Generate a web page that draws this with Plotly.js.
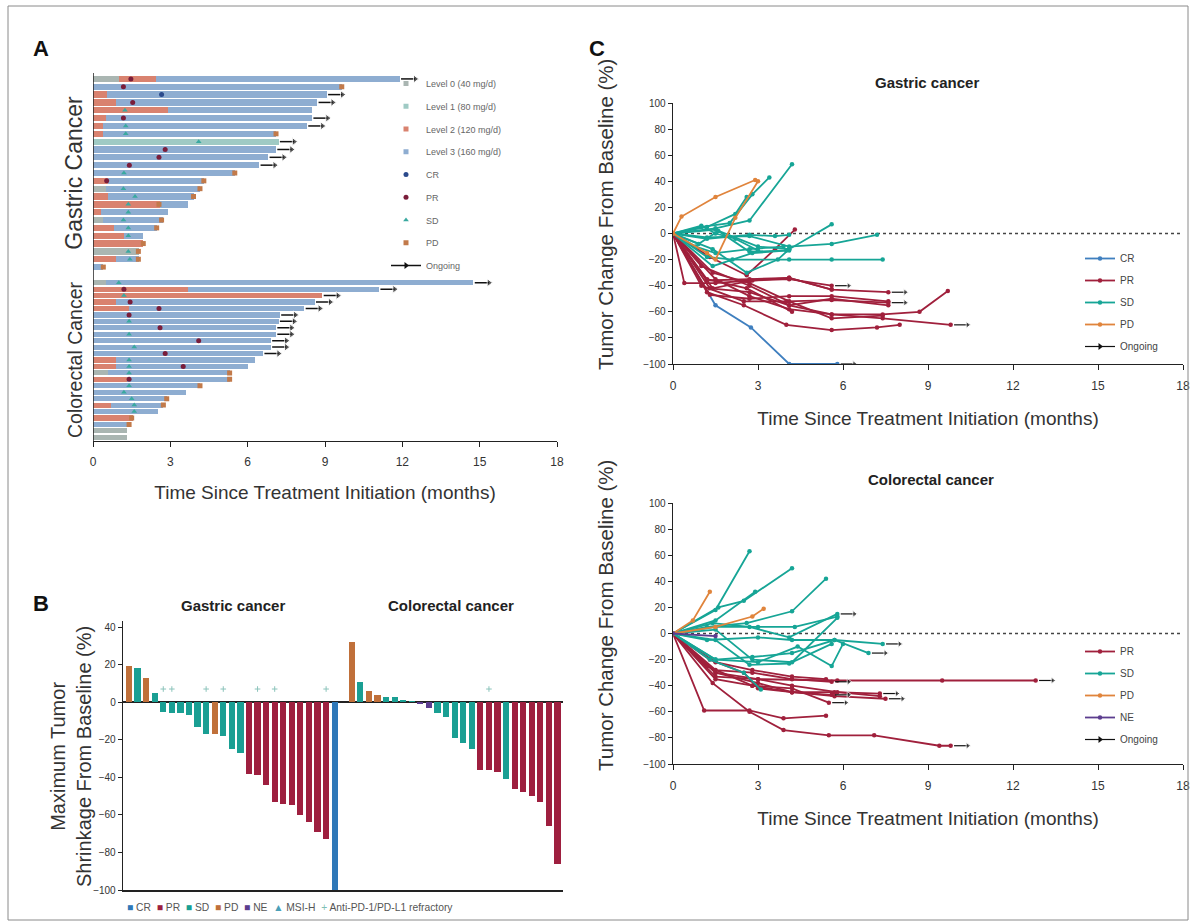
<!DOCTYPE html>
<html><head><meta charset="utf-8">
<script src="https://cdn.plot.ly/plotly-3.0.1.min.js"></script>
<style>html,body{margin:0;padding:0;background:#fff}#chart{width:1191px;height:924px}</style>
</head><body><div id="chart"></div><script>
// ================= DATA =================
// ---- Panel A : swimmer plot (months) ----
const doseLevels = ['Level 0 (40 mg/d)', 'Level 1 (80 mg/d)', 'Level 2 (120 mg/d)', 'Level 3 (160 mg/d)'];
const gastricEnd = [11.9, 9.65, 9.07, 8.7, 8.5, 8.5, 8.3, 7.1, 7.2, 7.1, 6.8, 6.45, 5.5, 4.3, 4.15, 3.9, 3.7, 2.9, 2.7, 2.5, 1.95, 1.95, 1.8, 1.8, 0.4];
const gastricL0 = [1.0, 0, 0, 0, 0, 0, 0, 0, 0, 0, 0, 0, 0, 0, 0.5, 0, 0, 0, 0.4, 0, 0, 0, 1.8, 0, 0];
const gastricL1 = [0, 0, 0, 0, 0, 0, 0, 0, 7.2, 0, 0, 0, 0, 0, 0, 0, 0, 0, 0, 0, 0, 0, 0, 0, 0];
const gastricL2 = [1.45, 0, 0.55, 0.9, 2.9, 0.5, 0.4, 0.4, 0, 0, 0, 0, 0, 0.6, 0, 0.6, 2.6, 0.3, 0, 0.8, 1.2, 1.95, 0, 0.9, 0];
const gastricOngoing = [0, 2, 3, 5, 6, 8, 9, 10, 11];
const gastricMarkRow = [0, 1, 1, 2, 3, 4, 5, 6, 7, 7, 8, 9, 10, 11, 12, 12, 13, 13, 14, 14, 15, 15, 16, 16, 17, 18, 18, 19, 19, 20, 21, 22, 22, 23, 23, 24];
const gastricMarkT = [1.47, 1.18, 9.65, 2.66, 1.54, 1.24, 1.18, 1.27, 1.27, 7.1, 4.1, 2.8, 2.56, 1.41, 1.2, 5.5, 0.53, 4.3, 1.18, 4.15, 1.63, 3.9, 1.37, 2.56, 1.37, 1.18, 2.66, 1.37, 2.47, 1.37, 1.95, 1.37, 1.76, 1.43, 1.76, 0.4];
const gastricMarkType = ['PR', 'PR', 'PD', 'CR', 'PR', 'SD', 'PR', 'SD', 'SD', 'PD', 'SD', 'PR', 'PR', 'PR', 'SD', 'PD', 'PR', 'PD', 'SD', 'PD', 'SD', 'PD', 'SD', 'PD', 'SD', 'SD', 'PD', 'SD', 'PD', 'SD', 'PD', 'SD', 'PD', 'SD', 'PD', 'PD'];

const colorectalEnd = [14.76, 11.1, 8.9, 8.6, 8.2, 7.25, 7.2, 7.1, 7.1, 6.9, 6.9, 6.6, 6.3, 6.0, 5.3, 5.3, 4.15, 3.6, 2.86, 2.73, 2.54, 1.57, 1.44, 1.3, 1.3];
const colorectalL0 = [0.5, 0, 0, 0, 0, 0, 0, 0, 0, 0, 0, 0, 0, 0, 0.6, 0, 0, 0, 0, 0, 0, 0, 0, 1.3, 1.3];
const colorectalL1 = [0, 0, 0, 0, 0, 0, 0, 0, 0, 0, 0, 0, 0, 0, 0, 0, 0, 0, 0, 0, 0, 0, 0, 0, 0];
const colorectalL2 = [0, 3.7, 8.9, 0.9, 1.4, 0, 0, 0, 0, 0, 0, 0, 0.9, 0.9, 0, 1.3, 0, 0, 0, 0.7, 0, 1.57, 0, 0, 0];
const colorectalOngoing = [0, 1, 2, 3, 4, 5, 6, 7, 8, 9, 10, 11];
const colorectalMarkRow = [0, 1, 2, 3, 4, 5, 6, 7, 8, 9, 10, 11, 12, 13, 13, 14, 14, 15, 15, 16, 16, 17, 18, 18, 19, 19, 20, 21, 22];
const colorectalMarkT = [1.0, 1.2, 1.2, 1.44, 2.56, 1.4, 1.4, 2.6, 1.4, 4.1, 1.6, 2.8, 1.4, 1.4, 3.5, 1.4, 5.3, 1.4, 5.3, 1.4, 4.15, 1.2, 1.5, 2.86, 1.6, 2.73, 1.6, 1.5, 1.4];
const colorectalMarkType = ['SD', 'PR', 'SD', 'PR', 'PR', 'PR', 'SD', 'PR', 'SD', 'PR', 'SD', 'PR', 'SD', 'SD', 'PR', 'SD', 'PD', 'PR', 'PD', 'SD', 'PD', 'SD', 'SD', 'PD', 'SD', 'PD', 'SD', 'PD', 'PD'];

// ---- Panel B : waterfall (%) ----
const gastricShrink = [19, 18, 13, 5, -5, -6, -6, -7, -13, -17, -17, -18, -25, -27, -38, -39, -44, -53, -54, -55, -60, -64, -69, -73, -100];
const gastricResp = ['PD', 'SD', 'PD', 'SD', 'SD', 'SD', 'SD', 'SD', 'SD', 'SD', 'PD', 'SD', 'SD', 'SD', 'PR', 'PR', 'PR', 'PR', 'PR', 'PR', 'PR', 'PR', 'PR', 'PR', 'CR'];
const gastricRefractory = [4, 5, 9, 11, 15, 17, 23];
const colorectalShrink = [32, 11, 6, 4, 3, 2.5, 1, 0.4, -1, -3, -6, -8, -19, -22, -25, -36, -36, -37, -41, -46, -48, -50, -53, -66, -86];
const colorectalResp = ['PD', 'SD', 'PD', 'PD', 'SD', 'SD', 'SD', 'SD', 'NE', 'NE', 'SD', 'SD', 'SD', 'SD', 'SD', 'PR', 'PR', 'PR', 'SD', 'PR', 'PR', 'PR', 'PR', 'PR', 'PR'];
const colorectalRefractory = [16];

// ---- Panel C : spider plots (months, % change) ----
const gCR_t = [[0, 1.5, 2.75, 4.1, 5.8]];
const gCR_v = [[0, -55, -72, -100, -100]];
const gCR_on = [1];
const gPR_t = [[0, 0.4, 1.5, 2.7, 4.1, 5.6], [0, 1.2, 2.7, 4.1, 5.6, 7.6], [0, 1.3, 2.7, 4.1, 5.6, 7.6], [0, 1.0, 2.5, 4.0, 5.6, 7.6], [0, 1.3, 2.7, 4.1, 5.6, 7.4, 8.7, 9.7], [0, 1.5, 2.7, 4.1, 5.6, 7.4, 9.8], [0, 1.2, 2.5, 4.0, 5.6, 7.2, 8.0], [0, 1.4, 2.7, 4.1, 5.6, 7.4], [0, 1.3, 2.6, 3.6, 4.3], [0, 1.0, 2.7, 4.1, 5.6, 7.6], [0, 1.4, 2.8, 4.1, 5.6], [0, 1.2, 2.6, 4.2]];
const gPR_v = [[0, -38, -38, -36, -35, -40], [0, -36, -35, -34, -43, -45], [0, -47, -50, -48, -48, -52], [0, -40, -52, -52, -51, -53], [0, -42, -45, -55, -62, -62, -60, -44], [0, -35, -48, -58, -62, -65, -70], [0, -45, -55, -70, -74, -72, -70], [0, -30, -38, -52, -65, -63], [0, -18, -32, -12, 3], [0, -25, -40, -55, -50, -55], [0, -42, -36, -34, -43], [0, -35, -42, -60]];
const gPR_on = [1, 1, 0, 1, 0, 1, 0, 0, 0, 0, 0, 0];
const gSD_t = [[0, 1.0, 2.0, 2.8, 3.4], [0, 1.5, 2.7, 4.2], [0, 1.5, 3.0, 4.1, 5.6], [0, 1.2, 2.7, 4.1, 5.6, 7.2], [0, 1.2, 2.1, 4.1, 5.6, 7.4], [0, 1.4, 2.6, 3.7, 4.1], [0, 0.8, 1.5, 2.7, 3.9], [0, 1.2, 2.7, 3.6, 4.1], [0, 1.0, 1.5, 2.2, 3.0], [0, 1.2, 2.2, 2.6], [0, 0.9, 1.6, 2.7, 4.0], [0, 1.4, 2.8, 4.1]];
const gSD_v = [[0, 5, 8, 30, 43], [0, 4, 10, 53], [0, 3, -10, -12, 7], [0, -3, -2, -10, -8, -1], [0, -18, -20, -20, -20, -20], [0, -12, -30, -20, -12], [0, -10, -15, -12, -10], [0, -4, -1, -2, -1], [0, 6, 0, -4, -13], [0, 5, 15, 28], [0, -8, 2, -14, -13], [0, -25, -15, -13]];
const gSD_on = [0, 0, 0, 0, 0, 0, 0, 0, 0, 0, 0, 0];
const gPD_t = [[0, 0.3, 1.5, 2.9], [0, 1.2, 1.5, 2.2, 3.0]];
const gPD_v = [[0, 13, 28, 41], [0, -15, -20, 12, 40]];
const gPD_on = [0, 0];

const cPR_t = [[0, 1.1, 2.7, 3.9, 5.4], [0, 1.4, 2.7, 3.9, 5.5, 7.1, 9.4, 9.8], [0, 1.5, 3.0, 5.8, 9.5, 12.8], [0, 1.5, 3.0, 4.2, 5.7, 7.5], [0, 1.2, 2.8, 4.2, 5.7, 7.3], [0, 1.5, 3.0, 4.2, 5.8, 7.3], [0, 1.5, 2.8, 4.2, 5.6], [0, 1.5, 2.8, 4.2, 5.5], [0, 1.3, 2.5, 3.0, 4.2, 5.6], [0, 1.5, 2.8, 4.2, 5.4]];
const cPR_v = [[0, -59, -59, -65, -63], [0, -38, -60, -74, -78, -78, -86, -86], [0, -33, -35, -36, -36, -36], [0, -30, -38, -45, -48, -50], [0, -25, -40, -45, -45, -46], [0, -30, -35, -40, -45, -48], [0, -28, -30, -35, -37], [0, -35, -40, -42, -53], [0, -20, -30, -42, -45, -47], [0, -22, -28, -33, -35]];
const cPR_on = [0, 1, 1, 1, 1, 0, 1, 1, 1, 0];
const cSD_t = [[0, 1.5, 2.7], [0, 1.6, 2.5, 4.2], [0, 1.5, 2.9], [0, 1.2, 2.6, 4.2, 5.4], [0, 1.5, 3.0, 4.3, 5.8], [0, 1.2, 3.0, 4.2, 5.7, 7.4], [0, 1.5, 3.0, 4.4, 5.6, 6.0], [0, 1.5, 2.8, 4.2, 5.7, 6.9], [0, 1.5, 2.8, 4.2, 5.8], [0, 1.3, 2.5, 3.1], [0, 1.4, 2.7, 4.1, 5.8], [0, 1.5, 2.7, 4.1, 5.6]];
const cSD_v = [[0, 18, 63], [0, 20, 25, 50], [0, 10, 32], [0, 5, 8, 17, 42], [0, 5, 5, 5, 13], [0, -5, -3, -5, -5, -8], [0, -20, -22, -10, -25, -8], [0, -20, -18, -15, -5, -15], [0, 3, -20, -22, 12], [0, -20, -30, -43], [0, 8, 5, -3, 15], [0, -5, -24, -23, -8]];
const cSD_on = [0, 0, 0, 0, 0, 1, 0, 1, 0, 0, 1, 0];
const cPD_t = [[0, 0.7, 1.3], [0, 1.5, 2.8, 3.2]];
const cPD_v = [[0, 10, 32], [0, 5, 13, 19]];
const cPD_on = [0, 0];
const cNE_t = [[0, 1.5]];
const cNE_v = [[0, -2]];
const cNE_on = [0];

const monthTicks = [0, 3, 6, 9, 12, 15, 18];

// ================= STYLE =================
const F = 'Liberation Sans Narrow, Liberation Sans, Arial, sans-serif';
const TXT = '#333';
const px = v => v / 1191, py = v => 1 - v / 924;
const levelColors = ['#aab6b2', '#9fcac4', '#d9826f', '#8eadd1'];
const aMark = {CR: ['#2b4a8c', 'circle'], PR: ['#7a1d3a', 'circle'], SD: ['#3aa9a0', 'triangle-up'], PD: ['#c27a4a', 'square']};
const bColors = {CR: '#2f78b8', PR: '#9e1f3f', SD: '#1a9f93', PD: '#c0703a', NE: '#5c3d8f'};
const cColors = {CR: '#3f7fbf', PR: '#a0203c', SD: '#16a596', PD: '#e0843c', NE: '#5c3d8f'};

const data = [];
// ---- Panel A bars
function levelBars(L0, L1, L2, end, yaxis) {
  const rows = end.map((v, i) => i);
  const L3 = end.map((v, i) => Math.max(0, v - L0[i] - L1[i] - L2[i]));
  [L0, L1, L2, L3].forEach((arr, k) => {
    data.push({type: 'bar', orientation: 'h', x: arr, y: rows, xaxis: 'x', yaxis: yaxis, width: 0.8,
      marker: {color: levelColors[k], line: {width: 0}}, showlegend: false, hoverinfo: 'skip', name: doseLevels[k]});
  });
}
levelBars(gastricL0, gastricL1, gastricL2, gastricEnd, 'y');
levelBars(colorectalL0, colorectalL1, colorectalL2, colorectalEnd, 'y2');

function markTraces(rows, ts, types, yaxis) {
  ['CR', 'PR', 'SD', 'PD'].forEach(tp => {
    const x = [], y = [];
    types.forEach((t, i) => { if (t === tp) { x.push(ts[i]); y.push(rows[i]); } });
    data.push({type: 'scatter', mode: 'markers', x, y, xaxis: 'x', yaxis, showlegend: false, hoverinfo: 'skip',
      marker: {color: aMark[tp][0], symbol: aMark[tp][1], size: 5, line: {width: 0}}});
  });
}
markTraces(gastricMarkRow, gastricMarkT, gastricMarkType, 'y');
markTraces(colorectalMarkRow, colorectalMarkT, colorectalMarkType, 'y2');

function ongoingA(rows, end, yaxis) {
  const x = [], y = [], s = [];
  rows.forEach(r => { x.push(end[r] + 0.05, end[r] + 0.6, null); y.push(r, r, null); s.push(0, 7, 0); });
  data.push({type: 'scatter', mode: 'lines+markers', x, y, xaxis: 'x', yaxis, showlegend: false, hoverinfo: 'skip',
    line: {color: '#111', width: 1.5}, marker: {symbol: 'triangle-right', size: s, color: '#111'}});
}
ongoingA(gastricOngoing, gastricEnd, 'y');
ongoingA(colorectalOngoing, colorectalEnd, 'y2');

// Panel A legend entries
doseLevels.forEach((nm, k) => data.push({type: 'scatter', mode: 'markers', x: [null], y: [null], xaxis: 'x', yaxis: 'y',
  name: nm, legend: 'legend', legendgroup: 'a' + k, marker: {symbol: 'square', size: 5, color: levelColors[k]}}));
['CR', 'PR', 'SD', 'PD'].forEach(tp => data.push({type: 'scatter', mode: 'markers', x: [null], y: [null], xaxis: 'x', yaxis: 'y',
  name: tp, legend: 'legend', legendgroup: 'a' + tp, marker: {symbol: aMark[tp][1], size: 5, color: aMark[tp][0]}}));
data.push({type: 'scatter', mode: 'lines+markers', x: [null], y: [null], xaxis: 'x', yaxis: 'y', name: 'Ongoing',
  legend: 'legend', legendgroup: 'aOn', line: {color: '#111', width: 1.5}, marker: {symbol: 'triangle-right', size: 6, color: '#111'}});

// ---- Panel B bars
const bX = gastricShrink.map((v, i) => i).concat(colorectalShrink.map((v, i) => i + gastricShrink.length + 1));
const bY = gastricShrink.concat(colorectalShrink);
const bR = gastricResp.concat(colorectalResp);
data.push({type: 'bar', x: bX, y: bY, xaxis: 'x2', yaxis: 'y3', width: 0.72, showlegend: false, hoverinfo: 'skip',
  marker: {color: bR.map(r => bColors[r]), line: {width: 0}}});
const refX = gastricRefractory.concat(colorectalRefractory.map(i => i + gastricShrink.length + 1));
data.push({type: 'scatter', mode: 'markers', x: refX, y: refX.map(() => 7), xaxis: 'x2', yaxis: 'y3', showlegend: false, hoverinfo: 'skip',
  marker: {symbol: 'cross-thin', size: 4, color: '#8cc4bb', line: {width: 1, color: '#8cc4bb'}}});

// ---- Panel C spider lines
function spider(groups, xa, ya, leg) {
  const onX = [], onY = [], onS = [];
  groups.forEach(g => {
    const x = [], y = [];
    g.t.forEach((tt, i) => {
      x.push(...tt, null); y.push(...g.v[i], null);
      if (g.on[i]) { const n = tt.length - 1; onX.push(tt[n] + 0.12, tt[n] + 0.6, null); onY.push(g.v[i][n], g.v[i][n], null); onS.push(0, 6, 0); }
    });
    data.push({type: 'scatter', mode: 'lines+markers', x, y, xaxis: xa, yaxis: ya, name: g.name, legend: leg, legendgroup: leg + g.name,
      line: {color: cColors[g.name], width: 1.8}, marker: {size: 4.5, color: cColors[g.name]}, hoverinfo: 'skip'});
  });
  data.push({type: 'scatter', mode: 'lines+markers', x: onX, y: onY, xaxis: xa, yaxis: ya, showlegend: false, hoverinfo: 'skip',
    line: {color: '#111', width: 1.2}, marker: {symbol: 'triangle-right', size: onS, color: '#111'}});
  data.push({type: 'scatter', mode: 'lines+markers', x: [null], y: [null], xaxis: xa, yaxis: ya, name: 'Ongoing', legend: leg, legendgroup: leg + 'On',
    line: {color: '#111', width: 1.2}, marker: {symbol: 'triangle-right', size: 6, color: '#111'}});
}
spider([{name: 'CR', t: gCR_t, v: gCR_v, on: gCR_on}, {name: 'PR', t: gPR_t, v: gPR_v, on: gPR_on},
        {name: 'SD', t: gSD_t, v: gSD_v, on: gSD_on}, {name: 'PD', t: gPD_t, v: gPD_v, on: gPD_on}], 'x3', 'y4', 'legend2');
spider([{name: 'PR', t: cPR_t, v: cPR_v, on: cPR_on}, {name: 'SD', t: cSD_t, v: cSD_v, on: cSD_on},
        {name: 'PD', t: cPD_t, v: cPD_v, on: cPD_on}, {name: 'NE', t: cNE_t, v: cNE_v, on: cNE_on}], 'x4', 'y5', 'legend3');

// ================= LAYOUT =================
const tickF = {family: F, size: 12, color: TXT};
const titleF = {family: F, size: 19, color: TXT};
const monthAxis = (dom, anchor, stand) => ({domain: dom, anchor, range: [0, 18], tickvals: monthTicks, ticks: 'outside', ticklen: 5, tickcolor: '#222',
  ticklabelstandoff: 5, showline: true, linecolor: '#222', linewidth: 1.3, showgrid: false, zeroline: false, tickfont: tickF, fixedrange: true,
  title: {text: 'Time Since Treatment Initiation (months)', font: titleF, standoff: stand}});
const pctAxis = (dom, anchor) => ({domain: dom, anchor, range: [-100, 100], tickvals: [-100, -80, -60, -40, -20, 0, 20, 40, 60, 80, 100],
  ticks: 'outside', ticklen: 4, tickcolor: '#222', showline: true, linecolor: '#222', linewidth: 1.3, showgrid: false, zeroline: false,
  tickfont: {family: F, size: 10, color: TXT}});
const legBase = {xanchor: 'left', yanchor: 'top', bgcolor: 'rgba(0,0,0,0)', borderwidth: 0, traceorder: 'grouped', itemwidth: 30};
const ann = (text, x, y, font, extra) => Object.assign({text, xref: 'paper', yref: 'paper', x: px(x), y: py(y), xanchor: 'center', yanchor: 'middle', showarrow: false, font}, extra || {});
const letterF = {family: 'Liberation Sans, Arial', size: 22, color: '#111'};
const subF = {family: F, size: 15, color: '#222'};
const yTitleF = {family: F, size: 20.5, color: TXT};

const layout = {
  width: 1191, height: 924, margin: {l: 0, r: 0, t: 0, b: 0}, paper_bgcolor: '#fff', plot_bgcolor: 'rgba(0,0,0,0)',
  font: {family: F, color: TXT}, barmode: 'stack', showlegend: true,
  xaxis: monthAxis([px(93), px(557)], 'y2', 17),
  yaxis: {domain: [py(271), py(75)], anchor: 'x', range: [24.5, -0.5], showticklabels: false, ticks: '', showline: false, showgrid: false, zeroline: false,
    title: {text: 'Gastric Cancer', font: {family: F, size: 23, color: TXT}, standoff: 2}},
  yaxis2: {domain: [py(440.5), py(279.5)], anchor: 'x', range: [24.5, -0.5], showticklabels: false, ticks: '', showline: false, showgrid: false, zeroline: false,
    title: {text: 'Colorectal Cancer', font: {family: F, size: 19.5, color: TXT}, standoff: 4}},
  xaxis2: {domain: [px(123), px(563)], anchor: 'y3', range: [-0.7, 50.64], showticklabels: false, ticks: '', showline: true, linecolor: '#222', linewidth: 1.5,
    showgrid: false, zeroline: false},
  yaxis3: {domain: [py(890), py(621.4)], anchor: 'x2', range: [-100, 43], tickvals: [-100, -80, -60, -40, -20, 0, 20, 40], ticks: 'outside', ticklen: 4,
    tickcolor: '#222', showline: true, linecolor: '#222', linewidth: 1.3, showgrid: false, zeroline: true, zerolinecolor: '#222', zerolinewidth: 1.5,
    tickfont: {family: F, size: 10, color: TXT}},
  xaxis3: monthAxis([px(673), px(1183)], 'y4', 20),
  yaxis4: pctAxis([py(364), py(103)], 'x3'),
  xaxis4: monthAxis([px(673), px(1183)], 'y5', 20),
  yaxis5: pctAxis([py(764), py(503)], 'x4'),
  legend: Object.assign({}, legBase, {x: px(386), y: py(69), font: {family: F, size: 9, color: '#666'}, tracegroupgap: 3.75}),
  legend2: Object.assign({}, legBase, {x: px(1080), y: py(244), font: {family: F, size: 10, color: '#444'}, tracegroupgap: 3}),
  legend3: Object.assign({}, legBase, {x: px(1080), y: py(637), font: {family: F, size: 10, color: '#444'}, tracegroupgap: 3}),
  shapes: [
    {type: 'rect', xref: 'paper', yref: 'paper', x0: px(8), x1: px(1188), y0: py(920), y1: py(6), line: {color: '#8a8a8a', width: 1}},
    {type: 'line', xref: 'x', yref: 'paper', x0: 0, x1: 0, y0: py(441), y1: py(73), line: {color: '#222', width: 1.5}},
    {type: 'line', xref: 'x3', yref: 'y4', x0: 0, x1: 18, y0: 0, y1: 0, line: {color: '#444', width: 1.3, dash: 'dot'}, layer: 'below'},
    {type: 'line', xref: 'x4', yref: 'y5', x0: 0, x1: 18, y0: 0, y1: 0, line: {color: '#444', width: 1.3, dash: 'dot'}, layer: 'below'}
  ],
  annotations: [
    ann('<b>A</b>', 41, 48, letterF),
    ann('<b>B</b>', 41, 603, letterF),
    ann('<b>C</b>', 597, 48, letterF),
    ann('<b>Gastric cancer</b>', 233, 605, subF),
    ann('<b>Colorectal cancer</b>', 451, 605, subF),
    ann('<b>Gastric cancer</b>', 927, 82, subF),
    ann('<b>Colorectal cancer</b>', 931, 480, subF),
    ann('Maximum Tumor<br>Shrinkage From Baseline (%)', 71, 757, {family: F, size: 20, color: TXT}, {textangle: -90}),
    ann('Tumor Change From Baseline (%)', 605, 215, yTitleF, {textangle: -90}),
    ann('Tumor Change From Baseline (%)', 605, 616, yTitleF, {textangle: -90}),
    ann('<span style="color:' + bColors.CR + '">■</span> CR\u00a0\u00a0<span style="color:' + bColors.PR + '">■</span> PR\u00a0\u00a0<span style="color:' + bColors.SD +
      '">■</span> SD\u00a0\u00a0<span style="color:' + bColors.PD + '">■</span> PD\u00a0\u00a0<span style="color:' + bColors.NE +
      '">■</span> NE\u00a0\u00a0<span style="color:#4aa0b8">▲</span> MSI-H\u00a0\u00a0<span style="color:#7fbfb5">+</span> Anti-PD-1/PD-L1 refractory',
      125, 907, {family: F, size: 10.3, color: '#555'}, {xanchor: 'left'})
  ]
};

Plotly.newPlot('chart', data, layout, {staticPlot: true, displayModeBar: false});
</script></body></html>
